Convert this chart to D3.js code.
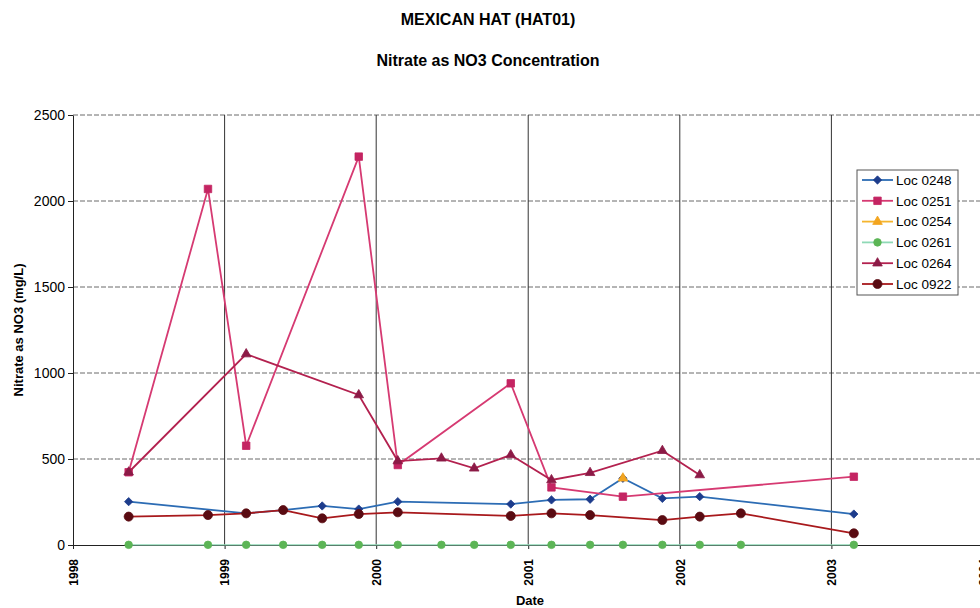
<!DOCTYPE html>
<html>
<head>
<meta charset="utf-8">
<script src="https://cdn.jsdelivr.net/npm/d3@7"></script>
<style>
  body { margin: 0; background: #fff; }
  svg { display: block; font-family: "Liberation Sans", Arial, sans-serif; }
</style>
</head>
<body>
<div id="chart"></div>
<script>
// Sampling dates (shared by all locations)
const dates = ["1998-05-15", "1998-11-22", "1999-02-22", "1999-05-22", "1999-08-24", "1999-11-20",
  "2000-02-22", "2000-06-06", "2000-08-24", "2000-11-20", "2001-02-26", "2001-05-30",
  "2001-08-17", "2001-11-20", "2002-02-18", "2002-05-28", "2003-02-24"];

// Nitrate as NO3 (mg/L), null = not sampled
const loc0248 = [252, null, 184, 203, 227, 209, 252, null, null, 238, 262, 266, 388, 271, 281, null, 180];
const loc0251 = [423, 2070, 577, null, null, 2258, 465, null, null, 940, 335, null, 281, null, null, null, 397];
const loc0254 = [null, null, null, null, null, null, null, null, null, null, null, null, 388, null, null, null, null];
const loc0261 = [1, 1, 1, 1, 1, 1, 1, 1, 1, 1, 1, 1, 1, 1, 1, 1, 1];
const loc0264 = [423, null, 1110, null, null, 872, 488, 504, 446, 523, 378, 420, null, 548, 407, null, null];
const loc0922 = [165, 174, 184, 203, 155, 180, 190, null, null, 169, 184, 174, null, 145, 165, 184, 68];

const seriesNames = ["Loc 0248", "Loc 0251", "Loc 0254", "Loc 0261", "Loc 0264", "Loc 0922"];
const yTicks = [0, 500, 1000, 1500, 2000, 2500];
const xYears = [1998, 1999, 2000, 2001, 2002, 2003, 2004];

const W = 980, H = 608;
const parse = d3.timeParse("%Y-%m-%d");
const dateObjs = dates.map(parse);

const series = [
  { name: seriesNames[0], values: loc0248, line: "#2c6cb4", mark: "#1d3c8c", sym: d3.symbolDiamond2, size: 44 },
  { name: seriesNames[1], values: loc0251, line: "#d63a72", mark: "#c42462", sym: d3.symbolSquare, size: 56 },
  { name: seriesNames[2], values: loc0254, line: "#f5b52e", mark: "#f3a51f", sym: d3.symbolTriangle, size: 40 },
  { name: seriesNames[3], values: loc0261, line: "#8fd9b6", mark: "#5cb556", sym: d3.symbolCircle, size: 45 },
  { name: seriesNames[4], values: loc0264, line: "#b3214f", mark: "#8c1a46", sym: d3.symbolTriangle, size: 40 },
  { name: seriesNames[5], values: loc0922, line: "#a8191c", mark: "#5a0b12", sym: d3.symbolCircle, size: 64 }
];

const svg = d3.select("#chart").append("svg")
  .attr("width", W)
  .attr("height", H);

const x = d3.scaleTime()
  .domain([new Date(1998, 0, 1), new Date(2004, 0, 1)])
  .range([73, 983]);

const y = d3.scaleLinear()
  .domain([0, 2500])
  .range([545, 115]);

// Titles
svg.append("text")
  .attr("x", 488).attr("y", 25)
  .attr("text-anchor", "middle")
  .attr("font-size", "16px").attr("font-weight", "bold")
  .text("MEXICAN HAT (HAT01)");

svg.append("text")
  .attr("x", 488).attr("y", 66)
  .attr("text-anchor", "middle")
  .attr("font-size", "16px").attr("font-weight", "bold")
  .text("Nitrate as NO3 Concentration");

// Horizontal dashed gridlines
svg.append("g")
  .selectAll("line")
  .data(yTicks.filter(d => d > 0))
  .join("line")
  .attr("x1", x.range()[0]).attr("x2", W)
  .attr("y1", d => y(d)).attr("y2", d => y(d))
  .attr("stroke", "#6a6a6a")
  .attr("stroke-width", 1)
  .attr("stroke-dasharray", "5,2");

// Vertical year gridlines
svg.append("g")
  .selectAll("line")
  .data(xYears.slice(1))
  .join("line")
  .attr("x1", d => x(new Date(d, 0, 1))).attr("x2", d => x(new Date(d, 0, 1)))
  .attr("y1", y(2500)).attr("y2", y(0))
  .attr("stroke", "#333")
  .attr("stroke-width", 1);

// Y axis
const yAxis = svg.append("g")
  .attr("transform", `translate(${x.range()[0]},0)`)
  .call(d3.axisLeft(y).tickValues(yTicks).tickFormat(d3.format("d"))
    .tickSize(5).tickPadding(3).tickSizeOuter(0));
yAxis.selectAll("text").attr("font-size", "14px").attr("fill", "#000")
  .attr("font-family", "'Liberation Sans', Arial, sans-serif");
yAxis.selectAll("path, line").attr("stroke", "#222");

// X axis
const xAxis = svg.append("g")
  .attr("transform", `translate(0,${y(0)})`)
  .call(d3.axisBottom(x)
    .tickValues(xYears.map(d => new Date(d, 0, 1)))
    .tickFormat(d3.timeFormat("%Y"))
    .tickSize(4)
    .tickSizeOuter(0));
xAxis.selectAll("path, line").attr("stroke", "#222");
xAxis.selectAll("text")
  .attr("font-size", "12px")
  .attr("font-weight", "bold")
  .attr("fill", "#000")
  .attr("font-family", "'Liberation Sans', Arial, sans-serif")
  .attr("transform", "rotate(-90)")
  .attr("text-anchor", "end")
  .attr("x", -14)
  .attr("y", 0)
  .attr("dy", "0.35em");

// Axis titles
svg.append("text")
  .attr("transform", "translate(23,330) rotate(-90)")
  .attr("text-anchor", "middle")
  .attr("font-size", "13px").attr("font-weight", "bold")
  .text("Nitrate as NO3 (mg/L)");

svg.append("text")
  .attr("x", 530).attr("y", 605)
  .attr("text-anchor", "middle")
  .attr("font-size", "13px").attr("font-weight", "bold")
  .text("Date");

// Series lines and markers
const lineGen = d3.line()
  .x(d => x(d.date))
  .y(d => y(d.value));

series.forEach(s => {
  const pts = s.values
    .map((v, i) => ({ date: dateObjs[i], value: v }))
    .filter(d => d.value !== null);

  svg.append("path")
    .datum(pts)
    .attr("fill", "none")
    .attr("stroke", s.line)
    .attr("stroke-width", s.name === "Loc 0261" ? 1.3 : 1.8)
    .attr("d", lineGen);

  svg.append("g")
    .selectAll("path")
    .data(pts)
    .join("path")
    .attr("transform", d => `translate(${x(d.date)},${y(d.value)})`)
    .attr("d", d3.symbol().type(s.sym).size(s.size))
    .attr("fill", s.mark)
    .attr("stroke", s.mark)
    .attr("stroke-width", 0.8);
});

// Legend
const legend = svg.append("g").attr("transform", "translate(857,170)");
legend.append("rect")
  .attr("width", 101).attr("height", 125)
  .attr("fill", "#fff")
  .attr("stroke", "#555")
  .attr("stroke-width", 1);

const items = legend.selectAll(".item")
  .data(series)
  .join("g")
  .attr("class", "item")
  .attr("transform", (d, i) => `translate(0,${10 + i * 20.8})`);

items.append("line")
  .attr("x1", 5).attr("x2", 36)
  .attr("stroke", d => d.line)
  .attr("stroke-width", 1.8);

items.append("path")
  .attr("transform", "translate(20.5,0)")
  .attr("d", d => d3.symbol().type(d.sym).size(d.size)())
  .attr("fill", d => d.mark)
  .attr("stroke", d => d.mark)
  .attr("stroke-width", 0.8);

items.append("text")
  .attr("x", 39)
  .attr("dy", "0.35em")
  .attr("font-size", "13.5px")
  .text(d => d.name);
</script>
</body>
</html>
